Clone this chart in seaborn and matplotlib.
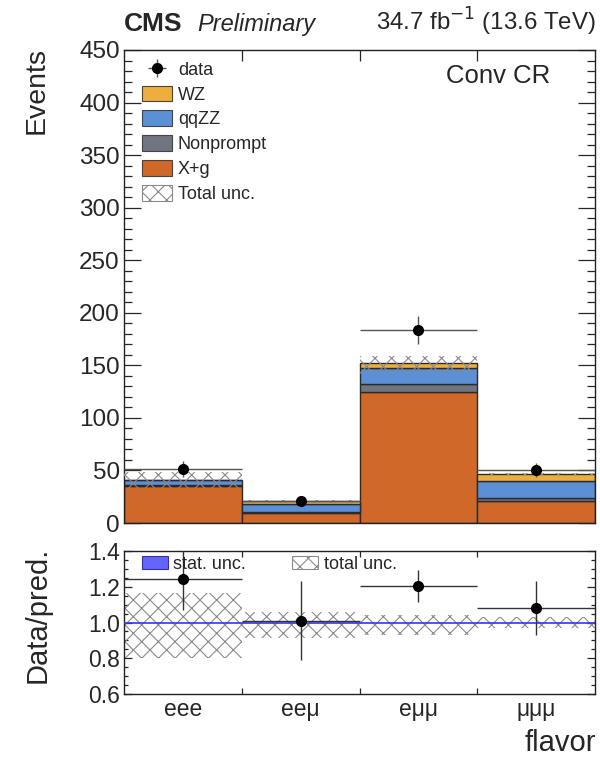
import numpy as np
import pandas as pd
import matplotlib
matplotlib.use("Agg")
import matplotlib.pyplot as plt
import seaborn as sns
from matplotlib.patches import Patch
from matplotlib.ticker import MultipleLocator, FixedLocator

# ---------------- data ----------------
categories = ["eee", "ee\u03bc", "e\u03bc\u03bc", "\u03bc\u03bc\u03bc"]
processes = ["WZ", "qqZZ", "Nonprompt", "X+g"]
wz = [0.8, 2.8, 5.4, 6.6]
qqzz = [4.5, 7.5, 15.0, 16.0]
nonprompt = [1.0, 1.0, 7.7, 3.0]
xg = [35.0, 9.5, 124.5, 21.0]
data = [51.4, 21.0, 183.6, 50.4]
data_err = [7.2, 4.6, 13.5, 7.1]
unc_up = [1.165, 1.06, 1.04, 1.03]
unc_dn = [0.80, 0.915, 0.93, 0.97]

colors = {"WZ": "#eeae3e", "qqZZ": "#5b8fd6", "Nonprompt": "#717581", "X+g": "#cf6828"}

# ---------------- style ----------------
sns.set_style("ticks")
plt.rcParams["font.family"] = ["Liberation Sans", "DejaVu Sans"]
plt.rcParams["hatch.color"] = "#8a8a8a"
plt.rcParams["hatch.linewidth"] = 0.8

fig = plt.figure(figsize=(6.0, 7.59), dpi=100)
ax = fig.add_axes([124 / 600, 1 - 523 / 759, 471 / 600, 473 / 759])
rax = fig.add_axes([124 / 600, 1 - 694 / 759, 471 / 600, 143 / 759])

x = np.arange(len(categories))
pred = np.array(wz) + np.array(qqzz) + np.array(nonprompt) + np.array(xg)

rows = []
for proc, vals in zip(processes, [wz, qqzz, nonprompt, xg]):
    for i, v in enumerate(vals):
        rows.append({"bin": i, "process": proc, "events": v})
df = pd.DataFrame(rows)

sns.histplot(data=df, x="bin", weights="events", hue="process", hue_order=processes,
             multiple="stack", discrete=True, shrink=1, palette=colors,
             edgecolor="#2b2b2b", linewidth=1.0, alpha=1, ax=ax, legend=False)

# total uncertainty band (main)
lo = pred * np.array(unc_dn)
hi = pred * np.array(unc_up)
ax.bar(x, hi - lo, bottom=lo, width=1.0, fill=False, hatch="xx", linewidth=0,
       edgecolor="#8a8a8a", zorder=3)

eb = ax.errorbar(x, data, yerr=data_err, xerr=0.5, fmt="o", color="black",
                 ecolor="#555555", elinewidth=1.0, markersize=7, capsize=0, zorder=5)

ax.set_xlim(-0.5, 3.5)
ax.set_ylim(0, 450)
ax.set_xlabel("")
ax.set_ylabel("")
ax.yaxis.set_major_locator(MultipleLocator(50))
ax.yaxis.set_minor_locator(MultipleLocator(10))
ax.xaxis.set_major_locator(FixedLocator([0.5, 1.5, 2.5]))
ax.set_xticklabels([])
ax.tick_params(axis="y", which="major", direction="in", length=12, width=0.9,
               left=True, right=True, labelsize=17.5, pad=3)
ax.tick_params(axis="y", which="minor", direction="in", length=6, width=0.9,
               left=True, right=True)
ax.tick_params(axis="x", which="major", direction="in", length=8, width=0.9,
               top=True, bottom=True)
for s in ax.spines.values():
    s.set_linewidth(1.0)
    s.set_color("#222222")

handles = [eb] + [Patch(facecolor=colors[p], edgecolor="#444444", linewidth=0.8) for p in processes] + \
          [Patch(facecolor="white", edgecolor="#8a8a8a", hatch="xx", linewidth=0.8)]
labels = ["data"] + processes + ["Total unc."]
ax.legend(handles, labels, loc="upper left", bbox_to_anchor=(0.03, 0.985), frameon=False,
          fontsize=13, handlelength=1.65, handleheight=0.95, handletextpad=0.35,
          labelspacing=0.38, borderpad=0.2, borderaxespad=0)

ax.text(0.905, 0.945, "Conv CR", transform=ax.transAxes, ha="right", va="center", fontsize=18.5)

fig.text(124 / 600, 1 - 31 / 759, "CMS", fontsize=19, fontweight="bold", ha="left", va="baseline")
fig.text(197 / 600, 1 - 31 / 759, "Preliminary", fontsize=17, style="italic", ha="left", va="baseline")
fig.text(596 / 600, 1 - 31 / 759, r"34.7 fb$^{-1}$ (13.6 TeV)", fontsize=17.3, ha="right", va="baseline")
fig.text(37 / 600, 1 - 47 / 759, "Events", fontsize=20.5, rotation=90, ha="center", va="top")

# ---------------- ratio panel ----------------
ratio = np.array(data) / pred
ratio_err = np.array(data_err) / pred
rax.bar(x, np.array(unc_up) - np.array(unc_dn), bottom=unc_dn, width=1.0, fill=False,
        hatch="xx", linewidth=0, edgecolor="#8a8a8a", zorder=2)
rax.axhline(1.0, color="#3333ff", linewidth=1.2, zorder=3)
rax.errorbar(x, ratio, yerr=ratio_err, xerr=0.5, fmt="o", color="black",
             ecolor="#333333", elinewidth=1.0, markersize=7, capsize=0, zorder=5)
rax.set_xlim(-0.5, 3.5)
rax.set_ylim(0.6, 1.4)
rax.yaxis.set_major_locator(MultipleLocator(0.2))
rax.yaxis.set_minor_locator(MultipleLocator(0.05))
rax.set_yticks([0.6, 0.8, 1.0, 1.2, 1.4])
rax.set_yticklabels(["0.6", "0.8", "1.0", "1.2", "1.4"])
rax.xaxis.set_major_locator(FixedLocator([0.5, 1.5, 2.5]))
rax.set_xticklabels([])
rax.set_xticks(x, minor=True)
rax.set_xticklabels(categories, minor=True)
rax.tick_params(axis="y", which="major", direction="in", length=6, width=0.9,
                left=True, right=True, labelsize=16.5, pad=3)
rax.tick_params(axis="y", which="minor", direction="in", length=3, width=0.9,
                left=True, right=True)
rax.tick_params(axis="x", which="major", direction="in", length=4, width=0.9,
                top=True, bottom=True)
rax.tick_params(axis="x", which="minor", length=0, labelsize=16.5, pad=3)
for s in rax.spines.values():
    s.set_linewidth(1.0)
    s.set_color("#222222")

rhandles = [Patch(facecolor="#6464ff", edgecolor="#333399", linewidth=0.8),
            Patch(facecolor="white", edgecolor="#8a8a8a", hatch="xx", linewidth=0.8)]
rax.legend(rhandles, ["stat. unc.", "total unc."], loc="upper left", bbox_to_anchor=(0.03, 0.99),
           ncol=2, frameon=False, fontsize=13, handlelength=1.45, handleheight=0.75,
           handletextpad=0.3, columnspacing=2.55, borderpad=0.2, borderaxespad=0)

fig.text(38 / 600, 1 - 615 / 759, "Data/pred.", fontsize=21, rotation=90, ha="center", va="center")
fig.text(596 / 600, 1 - 743 / 759, "flavor", fontsize=21, ha="right", va="center")

fig.savefig("out.png", dpi=100)
